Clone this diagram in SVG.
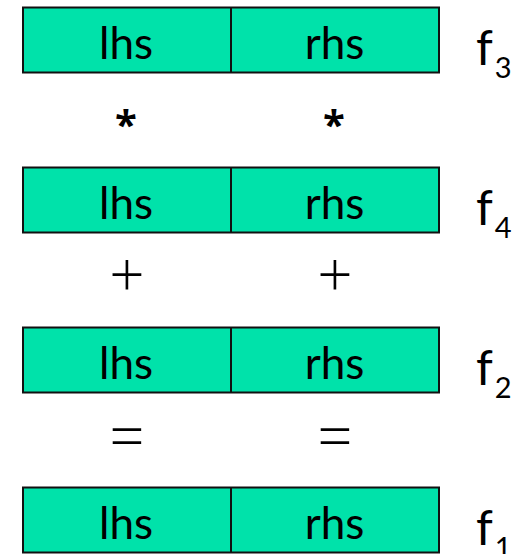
<svg xmlns="http://www.w3.org/2000/svg" width="523" height="554" viewBox="0 0 523 554">
<style>
.box{fill:#00E2AA;stroke:#111;stroke-width:2}
.div{stroke:#111;stroke-width:2}
.t{font-family:Lato,"Open Sans",sans-serif;font-size:44px;fill:#000;text-anchor:middle}
.f{font-family:Lato,"Open Sans",sans-serif;font-size:48px;fill:#000}
.sub{font-family:Lato,"Open Sans",sans-serif;font-size:29px;fill:#000}
.op{font-family:"Open Sans","DejaVu Sans",sans-serif;font-size:62px;font-weight:300;fill:#000;text-anchor:middle}
.ast{font-family:"Open Sans","DejaVu Sans",sans-serif;font-size:40px;font-weight:bold;fill:#000;text-anchor:middle}
</style>
<rect width="523" height="554" fill="#fff"/>
<g id="f3">
<rect class="box" x="23" y="7.5" width="416" height="65"/>
<line class="div" x1="231" y1="7.5" x2="231" y2="72.5"/>
<text class="t" x="126" y="59">lhs</text>
<text class="t" x="334.5" y="59">rhs</text>
<text class="f" x="476" y="65">f<tspan class="sub" dy="13" dx="2">3</tspan></text>
</g>
<g id="f4">
<rect class="box" x="23" y="167.5" width="416" height="65"/>
<line class="div" x1="231" y1="167.5" x2="231" y2="232.5"/>
<text class="t" x="126" y="219">lhs</text>
<text class="t" x="334.5" y="219">rhs</text>
<text class="f" x="476" y="225">f<tspan class="sub" dy="13" dx="2">4</tspan></text>
</g>
<g id="f2">
<rect class="box" x="23" y="327.5" width="416" height="65"/>
<line class="div" x1="231" y1="327.5" x2="231" y2="392.5"/>
<text class="t" x="126" y="379">lhs</text>
<text class="t" x="334.5" y="379">rhs</text>
<text class="f" x="476" y="385">f<tspan class="sub" dy="13" dx="2">2</tspan></text>
</g>
<g id="f1">
<rect class="box" x="23" y="487.5" width="416" height="65"/>
<line class="div" x1="231" y1="487.5" x2="231" y2="552.5"/>
<text class="t" x="126" y="539">lhs</text>
<text class="t" x="334.5" y="539">rhs</text>
<text class="f" x="476" y="545">f<tspan class="sub" dy="13" dx="2">1</tspan></text>
</g>
<g id="connectors">
<text class="ast" x="126" y="139">*</text>
<text class="ast" x="334" y="139">*</text>
<text class="op" x="127" y="297">+</text>
<text class="op" x="335" y="297">+</text>
<text class="op" x="127" y="458">=</text>
<text class="op" x="335" y="458">=</text>
</g>
</svg>
